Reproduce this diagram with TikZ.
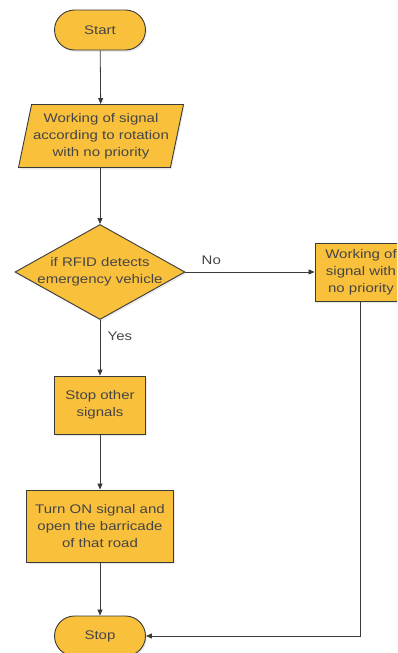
\documentclass[tikz,border=0pt]{standalone}
\usepackage{fontspec}
\setmainfont{Liberation Sans}[FakeStretch=1.2]
\usetikzlibrary{shapes.geometric,shapes.misc,arrows.meta,shadows}
\definecolor{boxfill}{HTML}{F9C03C}
\definecolor{edge}{HTML}{3A3A3A}
\definecolor{txt}{HTML}{454545}
\tikzset{
  base/.style={draw=edge, line width=0.9pt, fill=boxfill, text=txt, align=center,
    font=\fontsize{12.5}{17}\selectfont, inner sep=0pt,
    drop shadow={opacity=0.18, shadow xshift=1.2pt, shadow yshift=-1.8pt}},
  term/.style={base, rounded rectangle, minimum width=91pt, minimum height=40pt},
  proc/.style={base, rectangle},
  io/.style={base, trapezium, trapezium left angle=74, trapezium right angle=106,
    minimum width=165pt, minimum height=63pt, trapezium stretches body},
  dec/.style={base, diamond, minimum width=170pt, minimum height=95pt, aspect=1.8,
    inner xsep=-12pt, inner ysep=-4pt},
  conn/.style={draw=edge, line width=0.8pt, -{Triangle[length=6pt,width=5pt]}},
  lbl/.style={text=txt, font=\fontsize{12.5}{15}\selectfont}
}
\begin{document}
\begin{tikzpicture}[x=1pt,y=-1pt]
\useasboundingbox (0,0) rectangle (397,653);
\clip (0,0) rectangle (397,653);
\node[term] (start) at (100,30) {Start};
\node[io] (work) at (101,136) {Working of signal\\according to rotation\\with no priority};
\node[dec] (rfid) at (100,272) {if RFID detects\\emergency vehicle};
\node[proc, minimum width=92pt, minimum height=58pt] (right) at (361,272) {Working of\\signal with\\no priority};
\node[proc, minimum width=91pt, minimum height=58pt] (stopo) at (100,405) {Stop other\\signals};
\node[proc, minimum width=147pt, minimum height=72pt] (turn) at (100,526) {Turn ON signal and\\open the barricade\\of that road};
\node[term] (stop) at (100,636) {Stop};
\coordinate (corner) at (360,636);
\draw[conn] (start) -- (work);
\draw[conn] (work.south -| start) -- (rfid.north);
\draw[conn] (rfid.east) -- node[lbl, above=4pt, pos=0.2] {No} (right.west);
\draw[conn] (rfid.south) -- node[lbl, right=4pt, pos=0.3] {Yes} (stopo.north);
\draw[conn] (stopo) -- (turn);
\draw[conn] (turn) -- (stop);
\draw[conn] (right.south -| corner) -- (corner) -- (stop.east);
\end{tikzpicture}
\end{document}
